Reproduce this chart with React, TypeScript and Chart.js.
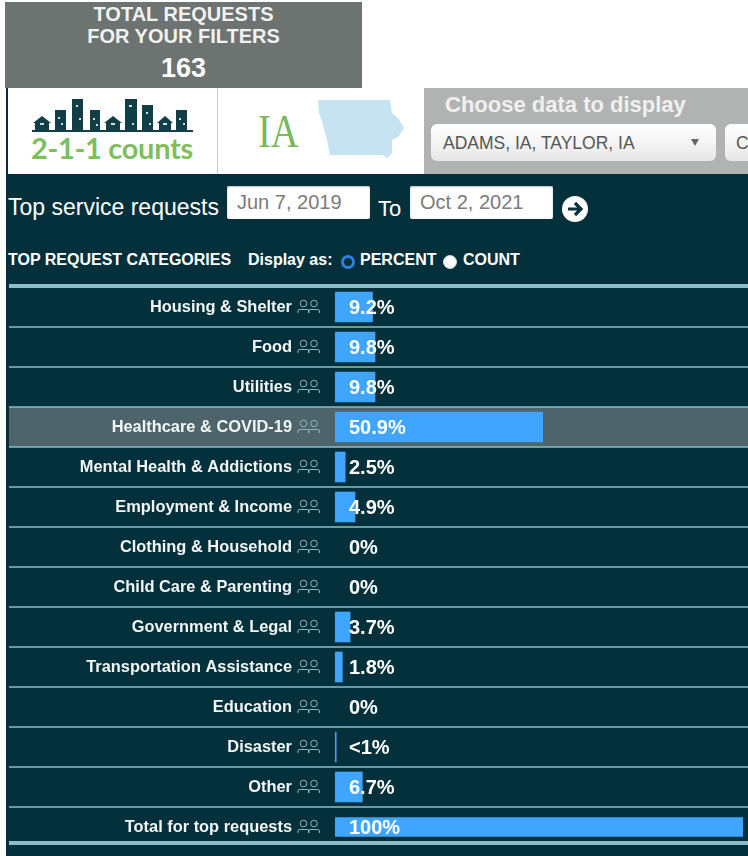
import React, { useEffect, useRef } from "react";
import { Chart, registerables } from "chart.js";

Chart.register(...registerables);

const categories = [
  "Housing & Shelter", "Food", "Utilities", "Healthcare & COVID-19",
  "Mental Health & Addictions", "Employment & Income", "Clothing & Household",
  "Child Care & Parenting", "Government & Legal", "Transportation Assistance",
  "Education", "Disaster", "Other", "Total for top requests",
];
const percentValues = [9.2, 9.8, 9.8, 50.9, 2.5, 4.9, 0, 0, 3.7, 1.8, 0, 0.3, 6.7, null];
const totalValues = [null, null, null, null, null, null, null, null, null, null, null, null, null, 100];
const valueLabels = ["9.2%", "9.8%", "9.8%", "50.9%", "2.5%", "4.9%", "0%", "0%", "3.7%", "1.8%", "0%", "<1%", "6.7%", "100%"];
const highlighted = "Healthcare & COVID-19";

const LINE = "#8dbdc9";
const BG = "#04303c";
const BAR = "#3fa5ff";
const SANS = "'Liberation Sans', Arial, sans-serif";

const rowDecor = {
  id: "rowDecor",
  beforeDraw(chart: any) {
    const { ctx } = chart;
    const y = chart.scales.y;
    const pitch = y.getPixelForValue(1) - y.getPixelForValue(0);
    const W = chart.width;
    ctx.save();
    categories.forEach((c, i) => {
      if (c === highlighted) {
        ctx.fillStyle = "#4d656a";
        ctx.fillRect(3, y.getPixelForValue(i) - pitch / 2, W - 3, pitch);
      }
    });
    ctx.strokeStyle = LINE;
    ctx.lineWidth = 1.5;
    for (let i = 0; i < categories.length - 1; i++) {
      const ly = y.getPixelForValue(i) + pitch / 2;
      ctx.beginPath();
      ctx.moveTo(3, ly);
      ctx.lineTo(W, ly);
      ctx.stroke();
    }
    ctx.fillStyle = LINE;
    ctx.fillRect(3, y.getPixelForValue(0) - pitch / 2 - 3, W - 3, 4);
    ctx.fillRect(3, y.getPixelForValue(categories.length - 1) + 14, W - 3, 4);
    ctx.strokeStyle = "#8fb6bd";
    ctx.lineWidth = 1;
    categories.forEach((_, i) => {
      const cy = y.getPixelForValue(i);
      [298, 308.5].forEach((x0) => {
        const cx = x0 - 6 + 5.5;
        ctx.beginPath();
        ctx.arc(cx, cy - 3.5, 3.3, 0, Math.PI * 2);
        ctx.stroke();
        ctx.beginPath();
        ctx.moveTo(cx - 5.5, cy + 6);
        ctx.lineTo(cx - 5.5, cy + 4);
        ctx.quadraticCurveTo(cx - 5.5, cy + 2.5, cx - 3.5, cy + 2.5);
        ctx.lineTo(cx + 3.5, cy + 2.5);
        ctx.quadraticCurveTo(cx + 5.5, cy + 2.5, cx + 5.5, cy + 4);
        ctx.lineTo(cx + 5.5, cy + 6);
        ctx.stroke();
      });
    });
    ctx.restore();
  },
  afterDatasetsDraw(chart: any) {
    const { ctx } = chart;
    const y = chart.scales.y;
    const x = chart.scales.x;
    ctx.save();
    ctx.fillStyle = "#ffffff";
    ctx.font = `bold 20px ${SANS}`;
    ctx.textAlign = "left";
    ctx.textBaseline = "middle";
    valueLabels.forEach((t, i) => {
      ctx.fillText(t, x.getPixelForValue(0) + 14, y.getPixelForValue(i) + 1);
    });
    ctx.restore();
  },
};

const abs = (left: number, top: number, extra: React.CSSProperties = {}): React.CSSProperties => ({
  position: "absolute",
  left,
  top,
  whiteSpace: "nowrap",
  ...extra,
});

function Radio({ x, y, on }: { x: number; y: number; on?: boolean }) {
  return (
    <div
      style={abs(x - 7, y - 7, {
        width: 14,
        height: 14,
        boxSizing: "border-box",
        borderRadius: "50%",
        background: on ? BG : "#fff",
        border: on ? "3px solid #2f80e0" : "1px solid #cfd6d8",
      })}
    />
  );
}

function DateBox({ x, w, text }: { x: number; w: number; text: string }) {
  return (
    <div
      style={abs(x, 186, {
        width: w,
        height: 33,
        boxSizing: "border-box",
        background: "#fff",
        borderRadius: 2,
        color: "#7b7b7b",
        fontSize: 20,
        lineHeight: "33px",
        paddingLeft: 10,
        boxShadow: "inset 0 1px 2px #bbb",
      })}
    >
      {text}
    </div>
  );
}

export default function App() {
  const ref = useRef<HTMLCanvasElement>(null);
  useEffect(() => {
    const barColor = (c: any) => (c.raw ? BAR : "rgba(0,0,0,0)");
    const chart = new Chart(ref.current!, {
      type: "bar",
      data: {
        labels: categories,
        datasets: [
          { data: percentValues as any, backgroundColor: barColor, barThickness: 30, borderWidth: 0 },
          { data: totalValues as any, backgroundColor: barColor, barThickness: 19, borderWidth: 0 },
        ],
      },
      options: {
        indexAxis: "y",
        responsive: false,
        animation: false,
        layout: { autoPadding: false, padding: { top: 7, bottom: 9, left: 0, right: 5 } },
        plugins: { legend: { display: false }, tooltip: { enabled: false }, title: { display: false } },
        scales: {
          x: { display: false, stacked: true, min: 0, max: 100 },
          y: {
            stacked: true,
            afterFit(s: any) {
              s.width = 329;
              s.paddingTop = 0;
              s.paddingBottom = 0;
            },
            grid: { display: false, drawTicks: false },
            border: { display: false },
            ticks: {
              color: "#f2f6f6",
              padding: 43,
              autoSkip: false,
              font: { family: SANS, size: 16.4, weight: "bold" },
            },
          },
        },
      },
      plugins: [rowDecor],
    } as any);
    return () => chart.destroy();
  }, []);

  return (
    <div style={abs(0, 0, { width: 748, height: 856, overflow: "hidden", background: "#fff", fontFamily: SANS, filter: "blur(0.45px)" })}>
      {/* total box */}
      <div style={abs(5, 2, { width: 357, height: 86, background: "#6c7370", color: "#f1f1f1", textAlign: "center", fontWeight: "bold" })}>
        <div style={{ position: "absolute", top: 1, width: "100%", fontSize: 20, lineHeight: "22px" }}>
          TOTAL REQUESTS
          <br />
          FOR YOUR FILTERS
        </div>
        <div style={{ position: "absolute", top: 53, width: "100%", fontSize: 27, lineHeight: "26px", color: "#fff" }}>163</div>
      </div>

      {/* logo panel */}
      <div style={abs(6, 88, { width: 2, height: 86, background: BG })} />
      <div style={abs(217, 88, { width: 1, height: 86, background: "#c9cccc" })} />
      <svg style={abs(0, 85)} width={220} height={50}>
        <g fill="#123f47">
          <path d="M35 45v-7l-2 0 9-7 9 7-2 0v7z" />
          <rect x={55} y={25} width={11} height={20} />
          <rect x={72} y={14} width={11} height={31} />
          <rect x={90} y={25} width={10} height={20} />
          <path d="M106 45v-7l-2 0 9-7 9 7-2 0v7z" />
          <rect x={125} y={14} width={12} height={31} />
          <rect x={142} y={20} width={11} height={25} />
          <path d="M159 45v-7l-2 0 8-7 8 7-2 0v7z" />
          <rect x={176} y={25} width={11} height={20} />
          <rect x={32} y={45} width={161} height={2} />
        </g>
        <g fill="#cfe0e0">
          <rect x={40} y={38} width={4} height={2} />
          <rect x={58} y={32} width={2} height={2} />
          <rect x={61} y={38} width={2} height={2} />
          <rect x={76} y={20} width={2} height={2} />
          <rect x={79} y={33} width={2} height={2} />
          <rect x={93} y={33} width={2} height={2} />
          <rect x={96} y={39} width={2} height={2} />
          <rect x={111} y={38} width={4} height={2} />
          <rect x={129} y={20} width={3} height={2} />
          <rect x={132} y={38} width={2} height={2} />
          <rect x={146} y={27} width={2} height={2} />
          <rect x={149} y={38} width={2} height={2} />
          <rect x={163} y={38} width={4} height={2} />
          <rect x={179} y={33} width={2} height={2} />
          <rect x={183} y={38} width={2} height={2} />
        </g>
      </svg>
      <div style={abs(31, 132, { color: "#7cbf5b", fontFamily: "Lato, sans-serif", fontWeight: "bold", fontSize: 29, lineHeight: "32px", letterSpacing: -0.3 })}>
        2-1-1 counts
      </div>
      <div style={abs(258, 108, { color: "#7ab85c", fontFamily: "'Liberation Serif', serif", fontSize: 47, lineHeight: "46px", transform: "scaleX(0.82)", transformOrigin: "left" })}>
        IA
      </div>
      <svg style={abs(0, 0)} width={748} height={180}>
        <polygon
          fill="#c5e3f0"
          points="318,100 390,100 392,113 398,118 404,128 398,137 392,140 392,153 387,158 383,155 330,155 327,140 322,122 319,113"
        />
      </svg>

      {/* choose panel */}
      <div style={abs(424, 88, { width: 324, height: 86, background: "#b1b3b3" })} />
      <div style={abs(445, 93, { color: "#f0f0f0", fontWeight: "bold", fontSize: 22, lineHeight: "24px" })}>Choose data to display</div>
      <div style={abs(431, 124, { width: 285, height: 37, borderRadius: 6, background: "linear-gradient(#fff,#f2f2f2 60%,#e6e6e6)", color: "#555", fontSize: 17.5, lineHeight: "38px", paddingLeft: 12, boxSizing: "border-box" })}>
        ADAMS, IA, TAYLOR, IA
        <div style={abs(260, 15, { width: 0, height: 0, borderLeft: "4px solid transparent", borderRight: "4px solid transparent", borderTop: "7px solid #666" })} />
      </div>
      <div style={abs(725, 124, { width: 40, height: 37, borderRadius: 6, background: "linear-gradient(#fff,#f2f2f2 60%,#e6e6e6)", color: "#555", fontSize: 17.5, lineHeight: "38px", paddingLeft: 11, boxSizing: "border-box" })}>
        C
      </div>

      {/* dark panel */}
      <div style={abs(6, 174, { width: 742, height: 682, background: BG })} />
      <div style={abs(8, 193, { color: "#fff", fontSize: 23, lineHeight: "28px" })}>Top service requests</div>
      <DateBox x={227} w={143} text="Jun 7, 2019" />
      <div style={abs(378, 195, { color: "#fff", fontSize: 22, lineHeight: "28px" })}>To</div>
      <DateBox x={410} w={143} text="Oct 2, 2021" />
      <svg style={abs(561, 195)} width={28} height={28}>
        <circle cx={14} cy={14} r={13} fill="#fff" />
        <path d="M7 14h12M14 8l6 6-6 6" fill="none" stroke={BG} strokeWidth={3.2} />
      </svg>
      <div style={abs(8, 251, { color: "#fff", fontSize: 16, fontWeight: "bold", lineHeight: "18px" })}>TOP REQUEST CATEGORIES</div>
      <div style={abs(248, 251, { color: "#fff", fontSize: 16, fontWeight: "bold", lineHeight: "18px" })}>Display as:</div>
      <Radio x={348} y={262} on />
      <div style={abs(360, 251, { color: "#fff", fontSize: 16, fontWeight: "bold", lineHeight: "18px" })}>PERCENT</div>
      <Radio x={450} y={262} />
      <div style={abs(463, 251, { color: "#fff", fontSize: 16, fontWeight: "bold", lineHeight: "18px" })}>COUNT</div>

      {/* chart */}
      <canvas ref={ref} width={742} height={576} style={abs(6, 280, { width: 742, height: 576 })} />
    </div>
  );
}
